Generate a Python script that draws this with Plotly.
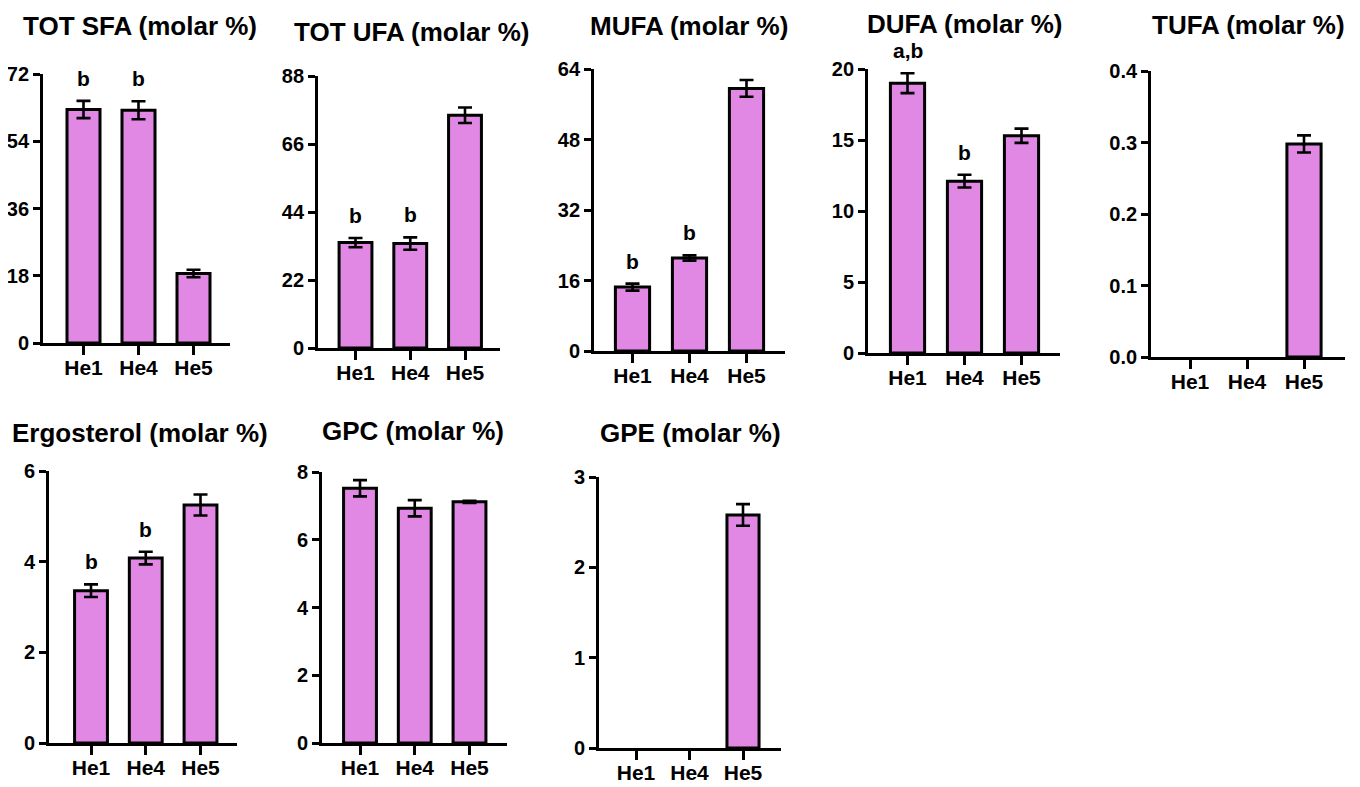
import plotly.graph_objects as go

# The page body adds an 8 px margin, so the figure is shifted by it.
OFF = 8
W, H = 1360 - OFF, 787 - OFF

categories = ["He1", "He4", "He5"]

titles = ["TOT SFA (molar %)", "TOT UFA (molar %)", "MUFA (molar %)", "DUFA (molar %)",
          "TUFA (molar %)", "Ergosterol (molar %)", "GPC (molar %)", "GPE (molar %)"]

tot_sfa = [62.5, 62.3, 18.6]
tot_sfa_err = [2.3, 2.4, 1.0]
tot_ufa = [34.1, 33.8, 75.3]
tot_ufa_err = [1.5, 2.0, 2.5]
mufa = [14.5, 21.1, 59.6]
mufa_err = [0.8, 0.6, 1.9]
dufa = [19.0, 12.1, 15.3]
dufa_err = [0.7, 0.45, 0.5]
tufa = [None, None, 0.298]
tufa_err = [None, None, 0.012]
ergosterol = [3.36, 4.08, 5.25]
ergosterol_err = [0.14, 0.14, 0.23]
gpc = [7.52, 6.93, 7.12]
gpc_err = [0.24, 0.24, 0.03]
gpe = [None, None, 2.58]
gpe_err = [None, None, 0.12]

values = [tot_sfa, tot_ufa, mufa, dufa, tufa, ergosterol, gpc, gpe]
errors = [tot_sfa_err, tot_ufa_err, mufa_err, dufa_err, tufa_err, ergosterol_err, gpc_err, gpe_err]

y_max = [72, 88, 64, 20, 0.4, 6, 8, 3]
y_dtick = [18, 22, 16, 5, 0.1, 2, 2, 1]
y_fmt = ["", "", "", "", ".1f", "", "", ""]

sig_labels = [["b", "b", ""], ["b", "b", ""], ["b", "b", ""], ["a,b", "b", ""],
              ["", "", ""], ["b", "b", ""], ["", "", ""], ["", "", ""]]

# layout geometry in screen pixels: (x_left, x_right, y_zero, y_top)
boxes = [(43, 230, 343, 74), (318, 500, 348, 76), (594, 785, 351, 69), (868, 1060, 353, 69),
         (1151, 1345, 357, 71), (49, 237, 743, 471), (322, 507, 743, 472), (599, 781, 748, 477)]
x_first = [83.5, 355.5, 632.5, 907.5, 1190, 91, 360, 636]
x_step = [55, 54.75, 57, 57, 57, 54.75, 54.75, 53.5]
title_pos = [(140, 26), (411, 32), (689, 26), (965, 24), (1248, 25), (140, 433), (413, 431), (690, 433)]


def px(x):
    return (x - OFF) / W


def py(y):
    return 1 - (y - OFF) / H


FONT = "Arial, Liberation Sans, sans-serif"
BAR_COLOR = "#E088E3"

fig = go.Figure()
annotations = []
for i in range(8):
    ax = "" if i == 0 else str(i + 1)
    xl, xr, y0, yt = boxes[i]
    fig.add_trace(go.Bar(
        x=[0, 1, 2], y=values[i],
        xaxis="x" + ax, yaxis="y" + ax,
        width=0.6,
        marker=dict(color=BAR_COLOR, line=dict(color="black", width=3)),
        error_y=dict(type="data", array=errors[i], visible=True, color="black",
                     thickness=2.6, width=7),
        showlegend=False, hoverinfo="skip",
    ))
    r0 = -(x_first[i] - xl) / x_step[i]
    r1 = 2 + (xr - (x_first[i] + 2 * x_step[i])) / x_step[i]
    fig.layout["xaxis" + ax] = dict(
        domain=[px(xl), px(xr)], anchor="y" + ax, range=[r0, r1], automargin=False,
        tickmode="array", tickvals=[0, 1, 2], ticktext=categories,
        showline=True, linecolor="black", linewidth=2.8, mirror=False,
        ticks="outside", ticklen=9, tickwidth=2.6, tickcolor="black",
        ticklabelstandoff=-5,
        showgrid=False, zeroline=False, fixedrange=True,
        tickfont=dict(family=FONT, size=21, color="black", weight="bold"),
    )
    fig.layout["yaxis" + ax] = dict(
        domain=[py(y0), py(yt)], anchor="x" + ax, range=[0, y_max[i]], automargin=False,
        tickmode="linear", tick0=0, dtick=y_dtick[i], tickformat=y_fmt[i],
        showline=True, linecolor="black", linewidth=2.8,
        ticks="outside", ticklen=7, tickwidth=2.6, tickcolor="black",
        showgrid=False, zeroline=False, fixedrange=True,
        tickfont=dict(family=FONT, size=20, color="black", weight="bold"),
    )
    for j in range(3):
        if sig_labels[i][j]:
            top = values[i][j] + errors[i][j]
            annotations.append(dict(
                x=j, y=top, xref="x" + ax, yref="y" + ax,
                text=sig_labels[i][j], showarrow=False, yanchor="bottom", yshift=9,
                font=dict(family=FONT, size=21, color="black", weight="bold"),
            ))
    tx, ty = title_pos[i]
    annotations.append(dict(
        x=px(tx), y=py(ty), xref="paper", yref="paper",
        text=titles[i], showarrow=False, xanchor="center", yanchor="middle",
        font=dict(family=FONT, size=26, color="black", weight="bold"),
    ))

fig.update_layout(
    width=W, height=H, margin=dict(l=0, r=0, t=0, b=0, pad=0, autoexpand=False),
    paper_bgcolor="white", plot_bgcolor="white",
    annotations=annotations, bargap=0.4,
)

fig.write_html("out.html", config={"displayModeBar": False})
